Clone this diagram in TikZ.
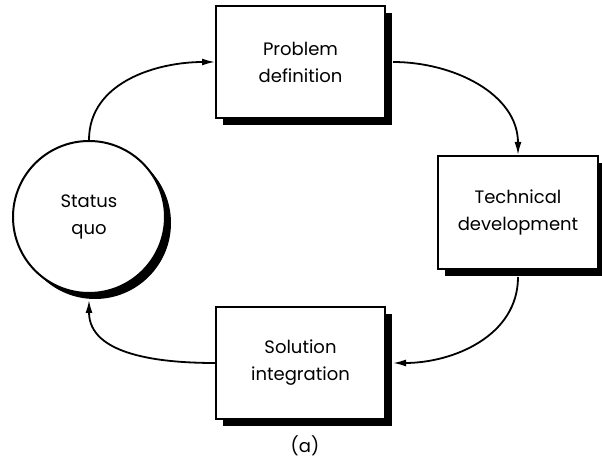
\documentclass[tikz,border=0pt]{standalone}
\usepackage{fontspec}
\setmainfont{Poppins}
\usetikzlibrary{arrows.meta,shadows}
\begin{document}
\begin{tikzpicture}[x=1pt,y=1pt,
  lbl/.style={font=\fontsize{18}{27}\selectfont, align=center},
  boxnode/.style={lbl, draw, line width=2pt, fill=white, minimum width=169pt, minimum height=112pt,
    drop shadow={shadow xshift=7pt, shadow yshift=-7pt, fill=black, opacity=1}},
  circnode/.style={lbl, circle, draw, line width=2pt, fill=white, minimum size=152pt, inner sep=0pt,
    drop shadow={shadow xshift=6pt, shadow yshift=-6pt, fill=black, opacity=1}},
  conn/.style={line width=1.8pt, -{Latex[length=13pt,width=7pt]}}]
\useasboundingbox (0,0) rectangle (602,471);
\node[circnode] (stat) at (89,254) {Status\\quo};
\node[boxnode] (prob) at (300.5,409) {Problem\\definition};
\node[boxnode, minimum width=160pt, minimum height=113pt] (tech) at (518,258.5) {Technical\\development};
\node[boxnode] (sol) at (300.5,108) {Solution\\integration};
\node[lbl] (cap) at (305,25) {(a)};
\draw[conn] (stat.north) to[out=90,in=180] (prob.west);
\draw[conn] ([xshift=7pt]prob.east) to[out=0,in=90] (tech.north);
\draw[conn] ([yshift=-7pt]tech.south) to[out=-90,in=0] ([xshift=7pt]sol.east);
\draw[conn] (sol.west) to[out=180,in=-90] ([yshift=-6pt]stat.south);
\end{tikzpicture}
\end{document}
